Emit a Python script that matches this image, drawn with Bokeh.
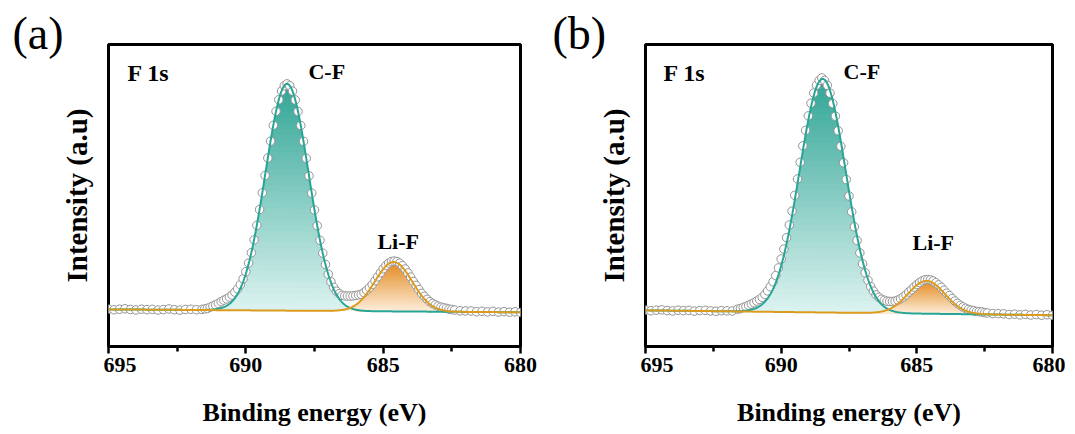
import numpy as np
from bokeh.plotting import figure
from bokeh.models import Range1d, FixedTicker, Label
from bokeh.layouts import row
from bokeh.core.properties import value
from bokeh.embed import file_html
from bokeh.resources import INLINE

# ---------------- data ----------------
# binding-energy sampling (eV): coarse on the flat wings, fine across the peaks
x_left = np.round(np.arange(695.0, 691.75, -0.2), 2)   # 695.0 .. 691.8
x_mid = np.round(np.arange(691.6, 682.35, -0.1), 2)    # 691.6 .. 682.4
x_right = np.round(np.arange(682.2, 679.95, -0.2), 2)  # 682.2 .. 680.0
energy = np.concatenate([x_left, x_mid, x_right])

# measured intensity (a.u.), panel (a)
int_a_left = [38.3, 37.6, 38.1, 38.6, 37.9, 37.4, 38.2, 37.7, 38.0, 37.3,
              37.8, 38.4, 37.6, 37.2, 37.9, 38.1, 37.6]
int_a_mid = [37.9, 38.5, 39.0, 40.2, 41.4, 42.7, 44.2, 45.9, 47.4, 48.7,
             50.6, 52.7, 55.6, 58.9, 63.3, 69.2, 76.5,
             85.4, 96.0, 109.1, 124.0, 140.1, 157.3, 175.0, 192.8, 210.1, 226.3,
             240.6, 252.5, 261.4, 266.8, 268.7, 266.8, 261.3, 252.3, 240.4, 226.1,
             209.9, 192.6, 174.6, 156.9, 139.7, 123.6, 108.7, 95.5, 83.9, 74.0,
             66.2, 60.4, 56.6, 54.0, 52.4, 51.8, 51.6, 51.6, 51.8, 52.2,
             52.8, 53.4, 55.1, 57.4, 60.2, 63.4, 67.3, 71.3, 75.5, 79.5,
             82.8, 85.4, 86.9, 87.4, 86.9, 85.3, 82.7, 79.3, 75.3, 71.0,
             66.5, 62.5, 58.2, 54.3, 51.3, 48.3, 45.8, 44.1, 42.5, 41.3,
             40.3, 39.6, 39.0, 38.2, 37.9, 37.3]
int_a_right = [36.5, 36.4, 36.3, 35.6, 36.0, 35.4, 35.9, 35.2, 35.7, 35.1, 35.5, 34.9]

# measured intensity (a.u.), panel (b)
int_b_left = [37.3, 36.6, 37.2, 37.5, 36.8, 36.4, 37.1, 36.7, 36.9, 36.2,
              36.8, 37.0, 36.4, 36.0, 36.7, 36.5, 36.3]
int_b_mid = [38.2, 38.8, 40.0, 40.9, 42.2, 43.4, 44.8, 46.5, 48.2, 50.4,
             53.2, 56.9, 61.1, 66.2, 72.6, 80.4, 89.5,
             99.7, 111.4, 124.3, 138.5, 154.7, 171.4, 188.5, 205.3, 221.2, 236.0,
             248.9, 259.4, 267.4, 272.3, 274.8, 272.2, 267.3, 259.2, 248.6, 235.7,
             220.8, 204.8, 188.0, 170.8, 154.0, 137.8, 122.5, 108.5, 95.8, 84.6,
             75.4, 67.7, 61.3, 56.7, 52.8, 50.3, 48.4, 47.3, 46.3, 46.1,
             46.1, 46.4, 47.5, 48.9, 50.7, 52.9, 55.7, 58.0, 60.8, 63.4,
             65.5, 67.2, 68.3, 68.5, 68.2, 67.1, 65.3, 63.1, 60.5, 57.5,
             54.5, 52.1, 49.1, 46.5, 44.2, 42.1, 40.5, 39.1, 37.9, 37.1,
             36.5, 35.9, 35.6, 35.3, 34.6, 34.3]
int_b_right = [33.7, 33.7, 33.4, 32.7, 33.1, 32.4, 32.9, 32.2, 32.7, 32.0, 32.5, 31.9]

int_a = np.array(int_a_left + int_a_mid + int_a_right)
int_b = np.array(int_b_left + int_b_mid + int_b_right)

# fitted components: (centre eV, height a.u., FWHM eV)
cf_a = (688.5, 232.0, 1.85)
lif_a = (684.62, 50.5, 1.6)
bg_a = (38.0, 35.0)          # background at 695 eV and 680 eV
cf_b = (688.47, 239.0, 2.0)
lif_b = (684.64, 33.5, 1.6)
bg_b = (37.0, 32.0)

xticks = [695, 690, 685, 680]
xminor = [692.5, 687.5, 682.5]

TEAL_LINE = "#27a597"
TEAL_TOP, TEAL_BOT = "#30a595", "#dcf3f0"
ORANGE_LINE = "#dc9b1c"
ORANGE_TOP, ORANGE_BOT = "#e4891f", "#fdeedb"
FONT = "Liberation Serif"
H = 429
TOP, BOTTOM = 44, 76
YMAX = 309


def gauss(x, c, h, fwhm):
    s = fwhm / 2.3548
    return h * np.exp(-(x - c) ** 2 / (2 * s * s))


def hex2rgb(h):
    h = h.lstrip("#")
    return np.array([int(h[i:i + 2], 16) for i in (0, 2, 4)], dtype=float)


def mix(c1, c2, t):
    a, b = hex2rgb(c1), hex2rgb(c2)
    c = np.round(a + (b - a) * t).astype(int)
    return "#%02x%02x%02x" % tuple(c)


def gradient_area(p, x, base, comp, c_bot, c_top, n=40):
    amax = comp.max()
    for i in range(n, 0, -1):
        lvl = amax * i / n
        col = mix(c_bot, c_top, (i - 0.5) / n)
        p.varea(x=x, y1=base, y2=base + np.minimum(comp, lvl),
                fill_color=col, fill_alpha=1.0)


def side(letter, w, letter_x, ylab_x):
    """narrow strip holding the panel letter (as title) and the rotated y title"""
    s = figure(width=w, height=H, x_range=Range1d(0, w), y_range=Range1d(0, YMAX),
               x_axis_type=None, y_axis_type=None,
               min_border_left=0, min_border_right=0,
               min_border_top=TOP, min_border_bottom=BOTTOM,
               toolbar_location=None, output_backend="svg", title="(%s)" % letter)
    s.outline_line_color = None
    s.title.text_font = FONT
    s.title.text_font_size = "46px"
    s.title.text_font_style = "normal"
    s.title.text_color = "black"
    s.title.align = "left"
    s.title.offset = letter_x
    s.title.standoff = -28
    s.text(x=[ylab_x], y=[YMAX - 154.5], text=["Intensity (a.u)"], text_font=value(FONT),
           text_font_size=value("29px"), text_font_style="bold", text_color="black",
           angle=np.pi / 2, text_align="center", text_baseline="middle")
    return s


def panel(y_meas, cf, lif, bg, width, right, pos):
    p = figure(width=width, height=H, x_range=Range1d(695, 680), y_range=Range1d(0, YMAX),
               output_backend="svg", toolbar_location=None,
               min_border_left=5, min_border_right=right,
               min_border_top=TOP, min_border_bottom=BOTTOM)
    p.grid.visible = False
    p.outline_line_color = "black"
    p.outline_line_width = 3
    p.outline_line_alpha = 1.0
    p.background_fill_color = "white"
    p.border_fill_color = "white"

    xf = np.linspace(695, 680, 751)
    base = bg[1] + (bg[0] - bg[1]) * (xf - 680) / 15.0
    c1 = gauss(xf, *cf)
    c2 = gauss(xf, *lif)

    gradient_area(p, xf, base, c1, TEAL_BOT, TEAL_TOP)
    gradient_area(p, xf, base, c2, ORANGE_BOT, ORANGE_TOP)

    p.scatter(energy, y_meas, marker="circle", size=8.5, line_color="#939393",
              line_width=1, fill_color="white", fill_alpha=1.0)

    p.line(xf, base + c1, line_color=TEAL_LINE, line_width=2)
    p.line(xf, base + c2, line_color=ORANGE_LINE, line_width=2)

    xa = p.xaxis[0]
    xa.ticker = FixedTicker(ticks=xticks, minor_ticks=xminor)
    xa.axis_line_color = "black"
    xa.axis_line_width = 3
    xa.major_tick_in = 0
    xa.major_tick_out = 7
    xa.minor_tick_in = 0
    xa.minor_tick_out = 5
    xa.major_tick_line_width = 2.5
    xa.minor_tick_line_width = 2.5
    xa.major_tick_line_color = "black"
    xa.minor_tick_line_color = "black"
    xa.major_label_text_font = FONT
    xa.major_label_text_font_style = "bold"
    xa.major_label_text_font_size = "22px"
    xa.major_label_text_color = "black"
    xa.major_label_standoff = 4
    xa.axis_label = "Binding energy (eV)"
    xa.axis_label_text_font = FONT
    xa.axis_label_text_font_style = "bold"
    xa.axis_label_text_font_size = "26px"
    xa.axis_label_text_color = "black"
    xa.axis_label_standoff = 23

    p.yaxis.visible = False

    def lab(x, y, text, size):
        p.add_layout(Label(x=x, y=y, text=text, text_font=FONT, text_font_size=size,
                           text_font_style="bold", text_color="black",
                           text_align="left", text_baseline="middle"))

    lab(pos["f1s"][0], pos["f1s"][1], "F 1s", "24px")
    lab(pos["cf"][0], pos["cf"][1], "C-F", "22px")
    lab(pos["lif"][0], pos["lif"][1], "Li-F", "22px")
    return p


pos_a = {"f1s": (694.31, 279.5), "cf": (687.72, 281), "lif": (685.21, 107.5)}
pos_b = {"f1s": (694.34, 279.5), "cf": (687.70, 281.5), "lif": (685.16, 106)}

sa = side("a", 103, 12, 76)
pa = panel(int_a, cf_a, lif_a, bg_a, 445, 28, pos_a)
sb = side("b", 92, 4, 65)
pb = panel(int_b, cf_b, lif_b, bg_b, 425, 13, pos_b)

layout = row(sa, pa, sb, pb)
open("out.html", "w").write(file_html(layout, INLINE))
